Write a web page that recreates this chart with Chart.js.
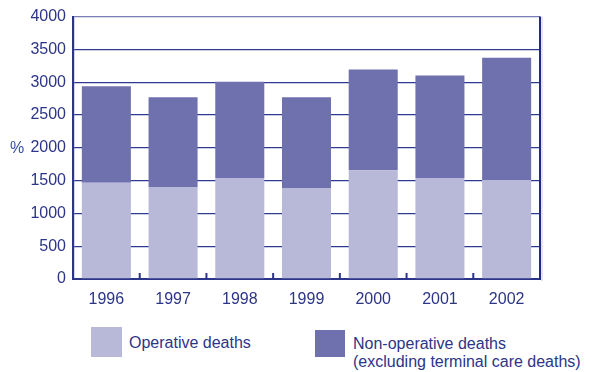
<!DOCTYPE html>
<html>
<head>
<meta charset="utf-8">
<script src="https://cdn.jsdelivr.net/npm/chart.js@4/dist/chart.umd.min.js"></script>
<style>
  html, body { margin: 0; padding: 0; background: #fff; }
  #wrap { position: relative; width: 594px; height: 372px; font-family: "Liberation Sans", Arial, sans-serif; color: #2c3587; }
  #chart { position: absolute; left: 0; top: 0; }
  .ylab { position: absolute; left: 10px; top: 139px; font-size: 16px; color: #34519b; }
  .key { position: absolute; font-size: 16px; line-height: 18px; }
  .sw { position: absolute; }
</style>
</head>
<body>
<div id="wrap">
  <canvas id="chart" width="594" height="310"></canvas>
  <div class="ylab">%</div>
  <div class="sw" id="sw0" style="left:91px; top:327px; width:31px; height:30px;"></div>
  <div class="key" id="k0" style="left:129px; top:334px;"></div>
  <div class="sw" id="sw1" style="left:315px; top:330px; width:30px; height:27px;"></div>
  <div class="key" id="k1" style="left:353px; top:335px;"></div>
</div>
<script>
// Deaths per year, split into operative and non-operative
const years = ["1996", "1997", "1998", "1999", "2000", "2001", "2002"];
const operativeDeaths = [1468, 1403, 1539, 1388, 1659, 1539, 1509];
const nonOperativeDeaths = [1469, 1369, 1469, 1384, 1534, 1564, 1865];
const yTicks = [0, 500, 1000, 1500, 2000, 2500, 3000, 3500, 4000];
const seriesNames = ["Operative deaths", "Non-operative deaths\n(excluding terminal care deaths)"];

const COLORS = ["#b8b8d9", "#6f71ae"];
const INK = "#2c3587";
const FONT = { family: "Liberation Sans", size: 16 };

// legend beneath the chart
document.getElementById("sw0").style.background = COLORS[0];
document.getElementById("sw1").style.background = COLORS[1];
seriesNames.forEach((name, i) => {
  document.getElementById("k" + i).innerHTML = name.split("\n").join("<br>");
});

// frame: right border and small inward ticks between categories
const framePlugin = {
  id: "frame",
  afterDraw(chart) {
    const { ctx, chartArea: a, scales: { x } } = chart;
    ctx.save();
    ctx.strokeStyle = "#1f2a8a";
    ctx.lineWidth = 2;
    ctx.beginPath();
    ctx.moveTo(a.right, a.top);
    ctx.lineTo(a.right, a.bottom + 1);
    ctx.stroke();
    ctx.strokeStyle = "#c9cbe3";
    ctx.lineWidth = 1;
    ctx.beginPath();
    ctx.moveTo(a.right + 2, a.top);
    ctx.lineTo(a.right + 2, a.bottom + 2);
    ctx.stroke();
    ctx.strokeStyle = INK;
    ctx.lineWidth = 2;
    for (let i = 0; i < years.length - 1; i++) {
      const bx = (x.getPixelForValue(i) + x.getPixelForValue(i + 1)) / 2;
      ctx.beginPath();
      ctx.moveTo(bx, a.bottom);
      ctx.lineTo(bx, a.bottom - 6);
      ctx.stroke();
    }
    ctx.restore();
  }
};

new Chart(document.getElementById("chart"), {
  type: "bar",
  data: {
    labels: years,
    datasets: [
      { label: seriesNames[0], data: operativeDeaths, backgroundColor: COLORS[0] },
      { label: seriesNames[1], data: nonOperativeDeaths, backgroundColor: COLORS[1] }
    ]
  },
  options: {
    responsive: false,
    animation: false,
    layout: { padding: { left: 0, right: 54, top: 13, bottom: 0 } },
    datasets: { bar: { barPercentage: 0.735, categoryPercentage: 1.0 } },
    plugins: { legend: { display: false }, tooltip: { enabled: false } },
    scales: {
      x: {
        stacked: true,
        grid: { display: false },
        border: { display: true, color: INK, width: 2 },
        ticks: { color: INK, font: FONT, padding: 3 },
        afterFit(s) { s.height = 31; }
      },
      y: {
        stacked: true,
        min: 0,
        max: 4000,
        afterBuildTicks(s) { s.ticks = yTicks.map(v => ({ value: v })); },
        grid: {
          color: (c) => c.tick && c.tick.value === 4000 ? "#7a7cb8" : "#2e3a8f",
          lineWidth: 1.3,
          drawTicks: false
        },
        border: { display: true, color: INK, width: 2.2 },
        ticks: { color: INK, font: FONT, padding: 7, callback: (v) => String(v) },
        afterFit(s) { s.width = 73; }
      }
    }
  },
  plugins: [framePlugin]
});
</script>
</body>
</html>
